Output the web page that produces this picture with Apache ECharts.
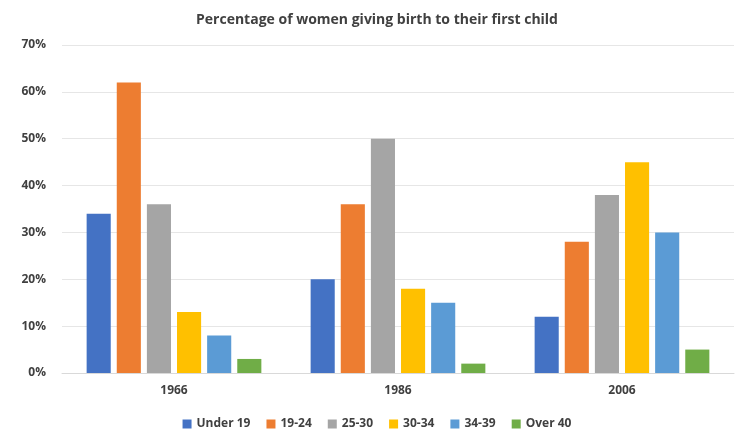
<!DOCTYPE html>
<html><head><meta charset="utf-8">
<script src="https://cdn.jsdelivr.net/npm/echarts@6/dist/echarts.min.js"></script>
<style>html,body{margin:0;background:#fff}#c{width:754px;height:447px}</style>
</head><body><div id="c"></div>
<script>
const categories = ['1966','1986','2006'];
const seriesNames = ['Under 19','19-24','25-30','30-34','34-39','Over 40'];
const under19 = [34,20,12];
const s1924 = [62,36,28];
const s2530 = [36,50,38];
const s3034 = [13,18,45];
const s3439 = [8,15,30];
const over40 = [3,2,5];
const colors = ['#4472C4','#ED7D31','#A5A5A5','#FFC000','#5B9BD5','#70AD47'];
const values = [under19,s1924,s2530,s3034,s3439,over40];
const chart = echarts.init(document.getElementById('c'));
chart.setOption({
  animation:false,
  title:{text:'Percentage of women giving birth to their first child',left:'center',top:8,
    textStyle:{fontFamily:'Open Sans',fontSize:14,fontWeight:'bold',color:'#404040'}},
  legend:{bottom:12,itemWidth:9,itemHeight:9,itemGap:16,icon:'rect',
    textStyle:{fontFamily:'Open Sans',fontSize:12,fontWeight:'bold',color:'#404040'}},
  grid:{left:62,right:20,top:45,bottom:74},
  xAxis:{type:'category',data:categories,axisTick:{show:false},
    axisLine:{lineStyle:{color:'#d9d9d9'}},
    axisLabel:{fontFamily:'Open Sans',fontSize:12,fontWeight:'bold',color:'#404040',margin:12}},
  yAxis:{type:'value',min:0,max:70,interval:10,
    axisLabel:{formatter:'{value}%',fontFamily:'Open Sans',fontSize:12,fontWeight:'bold',color:'#404040',margin:16},
    splitLine:{lineStyle:{color:'#e6e6e6'}}},
  series:seriesNames.map((n,i)=>({name:n,type:'bar',data:values[i],
    itemStyle:{color:colors[i]},barGap:'25%',barCategoryGap:'22%'}))
});
</script></body></html>
